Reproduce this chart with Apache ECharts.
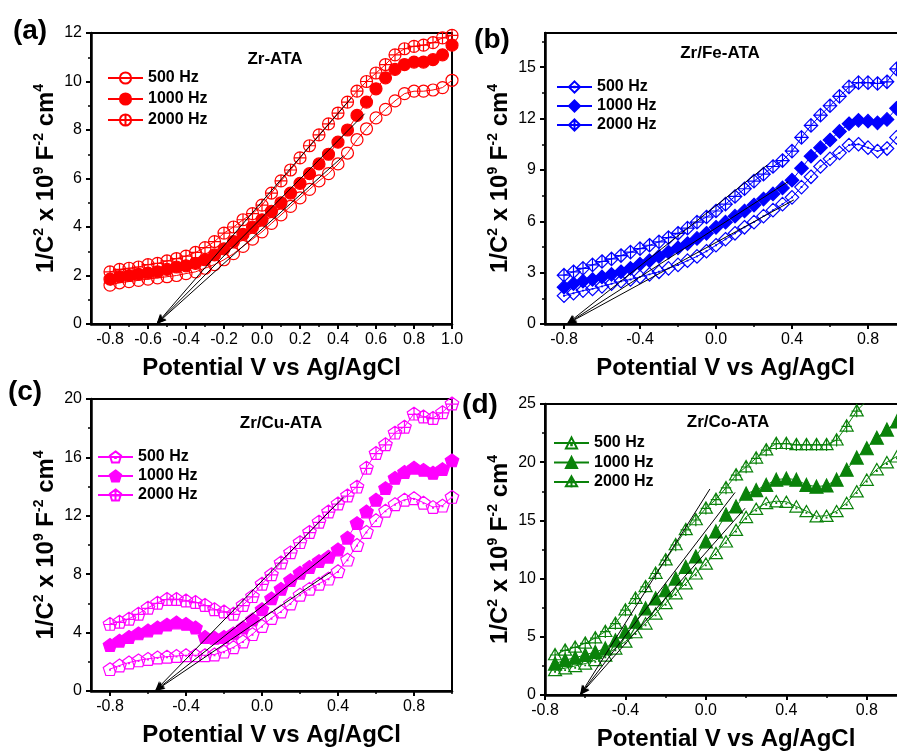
<!DOCTYPE html>
<html><head><meta charset="utf-8">
<script src="https://cdn.jsdelivr.net/npm/echarts@6/dist/echarts.min.js"></script>
<style>html,body{margin:0;padding:0;background:#fff}#c{width:897px;height:751px}</style>
</head><body><div id="c"></div>
<script>
// ---------- data ----------
const potentialABC = [-0.8,-0.75,-0.7,-0.65,-0.6,-0.55,-0.5,-0.45,-0.4,-0.35,-0.3,-0.25,-0.2,-0.15,-0.1,-0.05,0,0.05,0.1,0.15,0.2,0.25,0.3,0.35,0.4,0.45,0.5,0.55,0.6,0.65,0.7,0.75,0.8,0.85,0.9,0.95,1.0];
const potentialD = [-0.75,-0.7,-0.65,-0.6,-0.55,-0.5,-0.45,-0.4,-0.35,-0.3,-0.25,-0.2,-0.15,-0.1,-0.05,0,0.05,0.1,0.15,0.2,0.25,0.3,0.35,0.4,0.45,0.5,0.55,0.6,0.65,0.7,0.75,0.8,0.85,0.9,0.95];

const a500  = [1.6,1.7,1.75,1.8,1.85,1.9,1.95,2.0,2.08,2.15,2.3,2.45,2.65,2.9,3.2,3.5,3.8,4.15,4.5,4.85,5.2,5.55,5.9,6.2,6.6,7.05,7.6,8.05,8.5,8.85,9.2,9.5,9.6,9.6,9.65,9.75,10.05];
const a1000 = [1.85,1.95,2.0,2.05,2.1,2.15,2.25,2.35,2.4,2.5,2.65,2.85,3.1,3.4,3.7,4.0,4.3,4.65,5.0,5.4,5.8,6.2,6.6,7.0,7.5,8.0,8.6,9.15,9.7,10.15,10.5,10.7,10.8,10.8,10.9,11.1,11.5];
const a2000 = [2.15,2.25,2.3,2.35,2.45,2.5,2.6,2.7,2.8,2.95,3.15,3.4,3.75,4.0,4.3,4.55,4.9,5.4,5.9,6.35,6.85,7.35,7.8,8.25,8.7,9.15,9.6,10.0,10.35,10.7,11.1,11.35,11.45,11.5,11.6,11.8,11.9];

const b500  = [1.65,1.8,1.95,2.05,2.2,2.35,2.5,2.6,2.75,2.9,3.05,3.25,3.45,3.7,3.95,4.25,4.6,4.95,5.3,5.65,5.95,6.3,6.65,7.0,7.4,8.0,8.6,9.2,9.65,10.0,10.45,10.5,10.3,10.1,10.25,10.9,11.3];
const b1000 = [2.15,2.35,2.5,2.6,2.75,2.9,3.05,3.25,3.5,3.7,3.95,4.2,4.45,4.7,5.0,5.3,5.65,5.95,6.3,6.6,6.95,7.3,7.6,7.95,8.4,9.1,9.8,10.3,10.75,11.25,11.7,11.9,11.85,11.75,11.95,12.6,13.2];
const b2000 = [2.85,3.05,3.25,3.45,3.65,3.8,4.0,4.2,4.4,4.6,4.8,5.05,5.3,5.6,5.95,6.25,6.6,7.0,7.45,7.9,8.35,8.75,9.2,9.55,10.1,10.9,11.6,12.2,12.75,13.3,13.85,14.1,14.1,14.05,14.15,14.9,15.4];

const c500  = [1.5,1.75,1.95,2.1,2.2,2.3,2.35,2.4,2.45,2.45,2.45,2.5,2.7,3.0,3.4,3.9,4.45,5.0,5.45,6.0,6.6,7.0,7.35,7.7,8.2,9.0,10.0,10.9,11.7,12.35,12.8,13.1,13.2,12.9,12.6,12.7,13.3];
const c1000 = [3.15,3.45,3.7,3.95,4.15,4.35,4.55,4.7,4.6,4.35,3.7,3.65,3.7,3.95,4.35,4.9,5.6,6.35,7.0,7.6,8.1,8.5,8.9,9.2,9.7,10.5,11.5,12.3,13.1,13.9,14.6,15.0,15.3,15.15,14.95,15.2,15.8];
const c2000 = [4.6,4.75,4.95,5.3,5.7,6.05,6.3,6.3,6.2,6.1,5.9,5.6,5.45,5.3,5.9,6.5,7.35,8.0,8.8,9.5,10.2,10.9,11.6,12.3,12.85,13.4,14.0,15.3,16.3,16.9,17.7,18.1,19.0,18.8,18.7,19.1,19.7];

const d500  = [2.15,2.3,2.5,2.7,3.0,3.4,4.0,4.6,5.4,6.15,7.0,7.9,8.75,9.6,10.45,11.3,12.2,13.2,14.2,15.3,16.0,16.5,16.65,16.6,16.2,15.8,15.35,15.4,15.8,16.5,17.5,18.5,19.4,20.0,20.5];
const d1000 = [2.7,3.0,3.2,3.45,3.7,4.0,4.7,5.45,6.3,7.45,8.3,9.0,10.0,11.0,11.9,13.2,14.05,15.5,16.2,17.3,17.6,18.05,18.5,18.6,18.5,18.05,17.9,18.0,18.5,19.35,20.4,21.2,22.1,22.8,23.5];
const d2000 = [3.45,3.85,4.1,4.45,4.9,5.45,6.15,7.3,8.3,9.3,10.45,11.6,12.9,14.2,15.05,16.05,16.8,17.8,18.9,19.6,20.35,21.05,21.6,21.6,21.5,21.5,21.5,21.5,21.9,23.1,24.4,25.3,26.2,27.0,27.8];

// linear-fit lines [x0, y0, x1, y1] for 500, 1000, 2000 Hz
const fitA = [[-0.555,0,0.43,6.94],[-0.555,0,0.54,8.67],[-0.555,0,0.47,9.32]];
const fitB = [[-0.785,0,0.41,7.25],[-0.785,0,0.38,8.32],[-0.785,0,0.27,9.29]];
const fitC = [[-0.563,0,0.363,8.16],[-0.563,0,0.358,9.49],[-0.563,0,0.43,13.3]];
const fitD = [[-0.626,0,0.195,16.05],[-0.626,0,0.145,17.4],[-0.626,0,0.02,17.7]];

const frequencies = ['500','1000','2000'];
const panelTitles = ['Zr-ATA','Zr/Fe-ATA','Zr/Cu-ATA','Zr/Co-ATA'];
const panelLetters = ['(a)','(b)','(c)','(d)'];

// tick labels
const xLabelsA = [-0.8,-0.6,-0.4,-0.2,0,0.2,0.4,0.6,0.8,1.0];
const xMinorA  = [-0.7,-0.5,-0.3,-0.1,0.1,0.3,0.5,0.7,0.9];
const xLabelsBCD = [-0.8,-0.4,0,0.4,0.8];
const xMinorBCD  = [-0.6,-0.2,0.2,0.6,1.0];
const yLabelsA = [0,2,4,6,8,10,12];      const yMinorA = [1,3,5,7,9,11];
const yLabelsB = [0,3,6,9,12,15];        const yMinorB = [1.5,4.5,7.5,10.5,13.5,16.5];
const yLabelsC = [0,4,8,12,16,20];       const yMinorC = [2,6,10,14,18];
const yLabelsD = [0,5,10,15,20,25];      const yMinorD = [2.5,7.5,12.5,17.5,22.5];

// ---------- styling ----------
const FONT = 'Liberation Sans, Arial, Helvetica, sans-serif';
const circleCross = 'path://M0,10A10,10,0,1,1,20,10A10,10,0,1,1,0,10ZM10,0L10,20M0,10L20,10';
const dot = 'M9.5,9.5L10.5,9.5L10.5,10.5L9.5,10.5Z';
const diamondDot = 'path://M10,0L20,10L10,20L0,10Z' + dot;
const diamondCross = 'path://M10,0L20,10L10,20L0,10ZM10,0L10,20M0,10L20,10';
const pent = 'M10,0L19.51,6.91L15.88,18.09L4.12,18.09L0.49,6.91Z';
const pentDot = 'path://' + pent + dot;
const pentFill = 'path://' + pent;
const pentCross = 'path://' + pent + 'M10,0L10,18.09M0.49,10L19.51,10';
const triDot = 'path://M10,0L20,17.32L0,17.32ZM9.5,11L10.5,11L10.5,12L9.5,12Z';
const triCross = 'path://M10,0L20,17.32L0,17.32ZM10,0L10,19.5M2,10L18,10';

const panels = [
  {id:'a', color:'#ff0000', grid:{left:91,top:33,width:361,height:291}, xMin:-0.9, xMax:1.0, yMax:12,
   x:potentialABC, ys:[a500,a1000,a2000], fits:fitA, symbols:['circle','circle',circleCross], size:12,
   xLab:xLabelsA, xMin2:xMinorA, yLab:yLabelsA, yMin2:yMinorA,
   legend:{left:107,top:70,itemGap:5}, title:[275,59], letter:[30,31]},
  {id:'b', color:'#0000ff', grid:{left:545,top:33,width:361,height:291}, xMin:-0.9, xMax:1.0, yMax:17,
   x:potentialABC, ys:[b500,b1000,b2000], fits:fitB, symbols:[diamondDot,'diamond',diamondCross], size:13.5,
   xLab:xLabelsBCD, xMin2:xMinorBCD, yLab:yLabelsB, yMin2:yMinorB,
   legend:{left:556,top:79,itemGap:3}, title:[720,53], letter:[492,40]},
  {id:'c', color:'#ff00ff', grid:{left:91,top:399,width:361,height:292}, xMin:-0.9, xMax:1.0, yMax:20,
   x:potentialABC, ys:[c500,c1000,c2000], fits:fitC, symbols:[pentDot,pentFill,pentCross], size:13.5,
   xLab:xLabelsBCD, xMin2:xMinorBCD, yLab:yLabelsC, yMin2:yMinorC,
   legend:{left:97,top:449,itemGap:3}, title:[281,423], letter:[25,392]},
  {id:'d', color:'#0a820a', grid:{left:545,top:404,width:362,height:291}, xMin:-0.8, xMax:1.0, yMax:25,
   x:potentialD, ys:[d500,d1000,d2000], fits:fitD, symbols:[triDot,'triangle',triCross], size:13,
   xLab:xLabelsBCD, xMin2:xMinorBCD, yLab:yLabelsD, yMin2:yMinorD,
   legend:{left:553,top:435,itemGap:3.5}, title:[728,422], letter:[480,405]}
];

const grids=[], xAxes=[], yAxes=[], series=[], legends=[], graphics=[];
const yName = '{n|1/C}{s|2}{n| x 10}{s|9}{n| F}{s|-2}{n| cm}{s|4}';

panels.forEach((p, i) => {
  grids.push(Object.assign({show:true, borderColor:'#000', borderWidth:2, backgroundColor:'transparent', outerBoundsMode:'none', containLabel:false}, p.grid));
  xAxes.push({
    type:'value', gridIndex:i, min:p.xMin, max:p.xMax, position:'bottom',
    axisLine:{show:true, onZero:false, lineStyle:{color:'#000', width:2.5}},
    axisTick:{show:true, customValues:p.xLab, length:5, lineStyle:{color:'#000', width:2}},
    axisLabel:{customValues:p.xLab, formatter:v=>Number(v).toFixed(1), fontSize:16, color:'#000', fontFamily:FONT, margin:8},
    splitLine:{show:false},
    name:'Potential V vs Ag/AgCl', nameLocation:'middle', nameGap:32,
    nameTextStyle:{fontSize:24, fontWeight:'bold', color:'#000', fontFamily:FONT}
  });
  xAxes.push({
    type:'value', gridIndex:i, min:p.xMin, max:p.xMax, position:'bottom',
    axisLine:{show:false, onZero:false},
    axisTick:{show:true, customValues:p.xMin2, length:3, lineStyle:{color:'#000', width:1.5}},
    axisLabel:{show:false}, splitLine:{show:false}
  });
  yAxes.push({
    type:'value', gridIndex:i, min:0, max:p.yMax, position:'left',
    axisLine:{show:true, onZero:false, lineStyle:{color:'#000', width:2.5}},
    axisTick:{show:true, customValues:p.yLab, length:5, lineStyle:{color:'#000', width:2}},
    axisLabel:{customValues:p.yLab, formatter:v=>String(Math.round(v)), fontSize:16, color:'#000', fontFamily:FONT, margin:9},
    splitLine:{show:false},
    name:yName, nameLocation:'middle', nameGap:31,
    nameTextStyle:{color:'#000', fontFamily:FONT, fontWeight:'bold', fontSize:24,
      rich:{n:{fontSize:24, fontWeight:'bold', fontFamily:FONT, color:'#000', lineHeight:28},
            s:{fontSize:14, fontWeight:'bold', fontFamily:FONT, color:'#000', lineHeight:14, verticalAlign:'top'}}}
  });
  yAxes.push({
    type:'value', gridIndex:i, min:0, max:p.yMax, position:'left', offset:0,
    axisLine:{show:false, onZero:false},
    axisTick:{show:true, customValues:p.yMin2, length:3, lineStyle:{color:'#000', width:1.5}},
    axisLabel:{show:false}, splitLine:{show:false}
  });
  const names = [];
  frequencies.forEach((f, j) => {
    const nm = p.id + f;
    names.push(nm);
    const filled = j === 1;
    const ft = p.fits[j];
    series.push({
      type:'line', name:nm, xAxisIndex:2*i, yAxisIndex:2*i,
      data:p.x.map((v,k)=>[v, p.ys[j][k]]),
      symbol:p.symbols[j], symbolSize:p.size, symbolKeepAspect:true, showSymbol:true, showAllSymbol:true,
      lineStyle:{color:p.color, width:1},
      itemStyle:{color: filled ? p.color : 'rgba(255,255,255,0)', borderColor:p.color, borderWidth:1.2},
      emphasis:{disabled:true}, clip:true, z:2+j,
      markLine:{silent:true, symbol:['arrow','none'], symbolSize:[6,10], animation:false,
        lineStyle:{color:'#000', width:1, type:'solid'}, label:{show:false}, emphasis:{disabled:true},
        data:[[{coord:[ft[0],ft[1]]},{coord:[ft[2],ft[3]]}]]}
    });
  });
  legends.push({
    orient:'vertical', left:p.legend.left, top:p.legend.top, itemGap:p.legend.itemGap, padding:0,
    itemWidth:35, itemHeight:14, selectedMode:false, data:names,
    formatter:n=>n.slice(1)+' Hz',
    textStyle:{fontSize:16, fontWeight:'bold', color:'#000', fontFamily:FONT}
  });
  graphics.push({type:'text', x:p.title[0], y:p.title[1], z:100,
    style:{text:panelTitles[i], fill:'#000', font:'bold 17px '+FONT, align:'center', verticalAlign:'middle'}});
  graphics.push({type:'text', x:p.letter[0], y:p.letter[1], z:100,
    style:{text:panelLetters[i], fill:'#000', font:'bold 28px '+FONT, align:'center', verticalAlign:'middle'}});
});

const chart = echarts.init(document.getElementById('c'), null, {renderer:'canvas'});
chart.setOption({
  animation:false, backgroundColor:'#fff',
  grid:grids, xAxis:xAxes, yAxis:yAxes, series:series, legend:legends, graphic:graphics
});
</script></body></html>
